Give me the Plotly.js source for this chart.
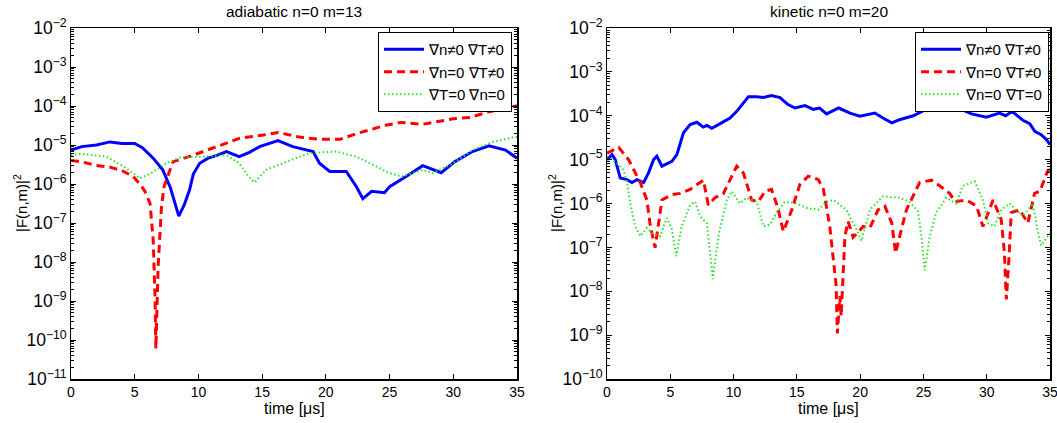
<!DOCTYPE html>
<html>
<head>
<meta charset="utf-8">
<script src="https://cdn.plot.ly/plotly-3.0.1.min.js"></script>
<style>
  html, body { margin: 0; padding: 0; background: #fff; overflow: hidden; }
  #chart { width: 1070px; height: 423px; }
</style>
</head>
<body>
<div id="chart"></div>
<script>
// ---- adiabatic n=0 m=13 ----
const adiaBlueT = [0, 0.84, 2.0, 3.06, 4.0, 5.0, 5.6, 6.45, 7.2, 7.8, 8.46, 8.9, 9.3, 9.6, 10.1, 10.76, 11.5, 12.2, 13.2, 14.0, 14.8, 16.25, 17.4, 19.0, 19.5, 20.3, 21.6, 21.9, 22.4, 22.9, 23.6, 24.6, 25.0, 26.3, 27.6, 29.05, 30.1, 31.5, 32.8, 34.1, 35];
const adiaBlueF = [7.4e-6, 9.1e-6, 1.0e-5, 1.2e-5, 1.1e-5, 1.1e-5, 8.5e-6, 4.6e-6, 2.3e-6, 8e-7, 1.5e-7, 3e-7, 7e-7, 1.8e-6, 3.4e-6, 4.6e-6, 5.5e-6, 6.8e-6, 5.0e-6, 6.5e-6, 9.1e-6, 1.3e-5, 9.1e-6, 6.8e-6, 3.4e-6, 2.1e-6, 2.1e-6, 1.5e-6, 8.5e-7, 4.2e-7, 6.5e-7, 6.0e-7, 8.5e-7, 1.55e-6, 2.95e-6, 1.95e-6, 3.7e-6, 6.8e-6, 9.5e-6, 7.4e-6, 4.6e-6];

const adiaRedT = [0, 0.84, 2.0, 3.06, 4.0, 4.9, 5.5, 5.8, 6.2, 6.45, 6.6, 6.66, 6.84, 7.1, 7.3, 8.0, 9.6, 11.4, 13.25, 15.1, 16.25, 17.9, 19.5, 21.1, 22.5, 24.7, 25.9, 27.6, 30.0, 31.3, 32.8, 34.9, 35];
const adiaRedF = [4.0e-6, 3.7e-6, 3.0e-6, 2.7e-6, 2.2e-6, 1.55e-6, 9e-7, 6.5e-7, 3.2e-7, 3.7e-8, 1.1e-9, 6e-11, 7.8e-9, 2.6e-7, 8.5e-7, 3.7e-6, 5.5e-6, 9.1e-6, 1.5e-5, 1.8e-5, 2.1e-5, 1.6e-5, 1.4e-5, 1.4e-5, 2.0e-5, 3.2e-5, 3.8e-5, 3.4e-5, 4.7e-5, 5.1e-5, 7.1e-5, 1.0e-4, 1.0e-4];

const adiaGreenT = [0, 0.84, 2.8, 4.36, 5.4, 6.3, 7.5, 8.54, 10.1, 12.2, 13.2, 13.9, 14.4, 15.3, 16.9, 18.7, 20.8, 22.4, 23.7, 25.0, 26.0, 27.6, 28.4, 30.0, 31.5, 33.1, 34.8, 35];
const adiaGreenF = [5.5e-6, 5.9e-6, 5.0e-6, 2.5e-6, 1.4e-6, 1.9e-6, 3.4e-6, 4.8e-6, 5.0e-6, 5.5e-6, 3.4e-6, 1.6e-6, 1.1e-6, 2.3e-6, 3.7e-6, 6.2e-6, 6.8e-6, 5.0e-6, 3.1e-6, 1.9e-6, 1.55e-6, 2.3e-6, 1.9e-6, 3.4e-6, 7.4e-6, 1.2e-5, 1.6e-5, 1.6e-5];

// ---- kinetic n=0 m=20 ----
const kinBlueT = [0, 0.4, 0.65, 1.05, 1.58, 1.97, 2.37, 2.89, 3.28, 3.68, 3.94, 4.34, 5.13, 5.52, 6.04, 6.57, 7.1, 7.6, 7.9, 8.28, 8.94, 9.72, 10.25, 11.17, 11.83, 12.35, 13.0, 13.67, 14.3, 14.85, 15.64, 16.3, 16.8, 17.35, 18.3, 19.2, 19.98, 20.5, 21.16, 21.8, 22.5, 23.1, 24.2, 25.2, 26.15, 26.8, 27.86, 28.8, 29.97, 31.0, 31.5, 32.0, 32.86, 33.4, 33.8, 34.3, 34.7, 35];
const kinBlueF = [1.0e-5, 1.3e-5, 1.0e-5, 3.8e-6, 3.5e-6, 3.0e-6, 3.5e-6, 3.0e-6, 5.0e-6, 1.0e-5, 1.2e-5, 7.1e-6, 9.1e-6, 1.3e-5, 4.1e-5, 6.3e-5, 7.1e-5, 5.5e-5, 6.0e-5, 5.2e-5, 6.6e-5, 8.9e-5, 1.26e-4, 2.7e-4, 2.7e-4, 2.6e-4, 2.9e-4, 2.6e-4, 1.8e-4, 1.5e-4, 1.7e-4, 1.4e-4, 1.5e-4, 1.1e-4, 1.5e-4, 1.15e-4, 9.8e-5, 1.05e-4, 1.15e-4, 8.9e-5, 6.9e-5, 8.1e-5, 1.0e-4, 1.4e-4, 1.6e-4, 1.6e-4, 1.45e-4, 1.1e-4, 9.3e-5, 1.15e-4, 1.0e-4, 1.26e-4, 7.9e-5, 6.6e-5, 4.4e-5, 3.7e-5, 2.9e-5, 2.2e-5];

const kinRedT = [0, 0.92, 1.7, 2.63, 3.15, 3.41, 3.8, 4.34, 5.12, 5.78, 6.57, 7.62, 8.0, 8.54, 9.2, 10.25, 10.77, 11.43, 11.96, 12.48, 13.0, 13.5, 13.93, 14.6, 15.24, 15.9, 16.7, 17.1, 17.6, 18.1, 18.2, 18.4, 18.5, 18.66, 18.8, 19.05, 19.45, 20.24, 20.77, 21.42, 21.95, 22.5, 22.8, 23.26, 23.66, 24.7, 25.63, 26.3, 27.07, 27.5, 28.4, 29.2, 29.7, 30.5, 31.15, 31.4, 31.55, 31.75, 31.94, 32.6, 33.25, 33.78, 34.2, 34.8, 35];
const kinRedF = [1.4e-5, 1.9e-5, 1.0e-5, 3.0e-6, 1.2e-6, 3.3e-7, 9.8e-8, 1.2e-6, 1.6e-6, 1.7e-6, 2.1e-6, 3.4e-6, 9.3e-7, 1.35e-6, 1.7e-6, 7.1e-6, 5.0e-6, 1.2e-6, 1.1e-6, 1.9e-6, 2.1e-6, 7.9e-7, 2.3e-7, 7.2e-7, 2.7e-6, 4.2e-6, 3.5e-6, 2.1e-6, 3.0e-7, 1.4e-8, 1.1e-9, 7.8e-9, 2.7e-9, 2.9e-8, 1.8e-7, 3.9e-7, 1.7e-7, 3.0e-7, 2.8e-7, 7.2e-7, 8.7e-7, 3.6e-7, 7.4e-8, 2.6e-7, 7.2e-7, 3.0e-6, 3.4e-6, 2.5e-6, 1.7e-6, 1.1e-6, 1.2e-6, 8.7e-7, 3.0e-7, 1.2e-6, 4.3e-7, 7.4e-8, 6.5e-9, 5.2e-8, 6.2e-7, 7.2e-7, 3.6e-7, 1.7e-6, 1.9e-6, 5.4e-6, 6.0e-6];

const kinGreenT = [0, 0.79, 1.3, 1.58, 1.84, 2.23, 2.63, 3.15, 3.55, 4.2, 4.73, 5.12, 5.47, 5.9, 6.57, 6.96, 7.36, 7.89, 8.36, 8.8, 9.46, 9.86, 10.5, 11.0, 11.83, 12.35, 12.88, 13.4, 14.06, 14.98, 15.77, 16.7, 17.35, 17.9, 18.9, 19.7, 20.1, 20.77, 21.8, 23.1, 23.9, 24.57, 24.84, 25.1, 25.5, 26.0, 26.8, 27.6, 28.1, 29.05, 29.7, 30.1, 30.6, 31.15, 31.8, 32.86, 33.64, 34.0, 34.3, 35];
const kinGreenF = [1.2e-5, 8.3e-6, 5.9e-6, 3.0e-6, 1.0e-6, 3.0e-7, 1.8e-7, 2.8e-7, 2.1e-7, 1.8e-7, 4.7e-7, 2.6e-7, 6.3e-8, 3.0e-7, 9.3e-7, 1.1e-6, 5.1e-7, 3.6e-7, 1.9e-8, 1.8e-7, 1.2e-6, 1.9e-6, 1.0e-6, 1.35e-6, 1.1e-6, 3.0e-7, 3.3e-7, 6.2e-7, 1.1e-6, 1.0e-6, 7.9e-7, 7.2e-7, 1.1e-6, 1.2e-6, 7.2e-7, 2.6e-7, 1.4e-7, 7.2e-7, 1.45e-6, 1.35e-6, 1.1e-6, 6.6e-7, 1.8e-7, 3.0e-8, 1.8e-7, 6.2e-7, 1.35e-6, 1.0e-6, 2.5e-6, 3.2e-6, 1.2e-6, 3.6e-7, 3.0e-7, 7.2e-7, 1.0e-6, 5.1e-7, 1.0e-6, 2.6e-7, 1.1e-7, 2.1e-7];

const leftTitle = 'adiabatic n=0 m=13';
const rightTitle = 'kinetic n=0 m=20';
const leftNames = ['\u2207n\u22600 \u2207T\u22600', '\u2207n=0 \u2207T\u22600', '\u2207T=0 \u2207n=0'];
const rightNames = ['\u2207n\u22600 \u2207T\u22600', '\u2207n=0 \u2207T\u22600', '\u2207n=0 \u2207T=0'];
const xLabel = 'time [\u03bcs]';
const yLabel = '|F(n,m)|<sup>2</sup>';

const FONT = 'Liberation Sans, Arial, Helvetica, sans-serif';
// W is the visible page width; a small extra right margin keeps the last
// x tick label of the right panel from being dropped at the edge.
const W = 1057, H = 423, EXTRA_R = 13;

const blueLine = { color: 'rgb(0,0,255)', width: 3 };
const redLine = { color: 'rgb(255,0,0)', width: 3, dash: '8px,5px' };
const greenLine = { color: 'rgb(40,225,40)', width: 2, dash: '1.5px,2.5px' };

function trace(t, f, name, line, xa, ya, leg) {
  return { x: t, y: f, name: name, type: 'scatter', mode: 'lines', line: line,
           xaxis: xa, yaxis: ya, legend: leg };
}

const data = [
  trace(adiaBlueT, adiaBlueF, leftNames[0], blueLine, 'x', 'y', 'legend'),
  trace(adiaRedT, adiaRedF, leftNames[1], redLine, 'x', 'y', 'legend'),
  trace(adiaGreenT, adiaGreenF, leftNames[2], greenLine, 'x', 'y', 'legend'),
  trace(kinBlueT, kinBlueF, rightNames[0], blueLine, 'x2', 'y2', 'legend2'),
  trace(kinRedT, kinRedF, rightNames[1], redLine, 'x2', 'y2', 'legend2'),
  trace(kinGreenT, kinGreenF, rightNames[2], greenLine, 'x2', 'y2', 'legend2')
];

// plot-area edges in pixels
const L1 = 71, R1 = 517, L2 = 607, R2 = 1050, TOP = 28, BOT = 379;
const px = v => v / W;
const py = v => 1 - v / H;

function xAxis(l, r, anchor) {
  return {
    domain: [px(l), px(r)], anchor: anchor, range: [0, 35], dtick: 5,
    ticks: 'inside', ticklen: 5, tickwidth: 1, tickcolor: '#000',
    showline: true, linecolor: '#000', linewidth: 1.5, mirror: 'allticks',
    showgrid: false, zeroline: false, automargin: false,
    ticklabeloverflow: 'allow',
    tickfont: { family: FONT, size: 14, color: '#000' }
  };
}
function yAxis(lo, anchor) {
  return {
    type: 'log', domain: [py(BOT), py(TOP)], anchor: anchor, range: [lo, -2], dtick: 1,
    exponentformat: 'power',
    ticks: 'inside', ticklen: 5, tickwidth: 1, tickcolor: '#000',
    minor: { ticks: 'inside', ticklen: 3, tickwidth: 1, tickcolor: '#000', dtick: 'D1', showgrid: false },
    showline: true, linecolor: '#000', linewidth: 1.5, mirror: 'allticks',
    showgrid: false, zeroline: false, automargin: false,
    ticklabeloverflow: 'allow',
    tickfont: { family: FONT, size: 14, color: '#000' }
  };
}
function legendBox(right) {
  return {
    x: px(right), xanchor: 'right', y: py(TOP + 4), yanchor: 'top',
    bgcolor: '#fff', bordercolor: '#000', borderwidth: 1,
    font: { family: FONT, size: 15, color: '#000' },
    tracegroupgap: 0, itemwidth: 40
  };
}
function note(text, x, y, size, angle) {
  return { text: text, xref: 'paper', yref: 'paper', x: x, y: y,
           xanchor: 'center', yanchor: 'middle', showarrow: false,
           textangle: angle || 0, font: { family: FONT, size: size, color: '#000' } };
}

const layout = {
  width: W + EXTRA_R, height: H,
  margin: { l: 0, r: EXTRA_R, t: 0, b: 0, pad: 0 },
  paper_bgcolor: '#fff', plot_bgcolor: '#fff',
  showlegend: true,
  xaxis: xAxis(L1, R1, 'y'),
  yaxis: yAxis(-11, 'x'),
  xaxis2: xAxis(L2, R2, 'y2'),
  yaxis2: yAxis(-10, 'x2'),
  legend: legendBox(R1 - 5),
  legend2: legendBox(R2 - 1),
  annotations: [
    note(leftTitle, px((L1 + R1) / 2), py(11), 15.5),
    note(rightTitle, px((L2 + R2) / 2), py(11), 15.5),
    note(xLabel, px((L1 + R1) / 2), py(408), 16),
    note(xLabel, px((L2 + R2) / 2), py(408), 16),
    note(yLabel, px(20), py(203), 15, -90),
    note(yLabel, px(555), py(203), 15, -90)
  ]
};

Plotly.newPlot('chart', data, layout, { staticPlot: true, displayModeBar: false });
</script>
</body>
</html>
